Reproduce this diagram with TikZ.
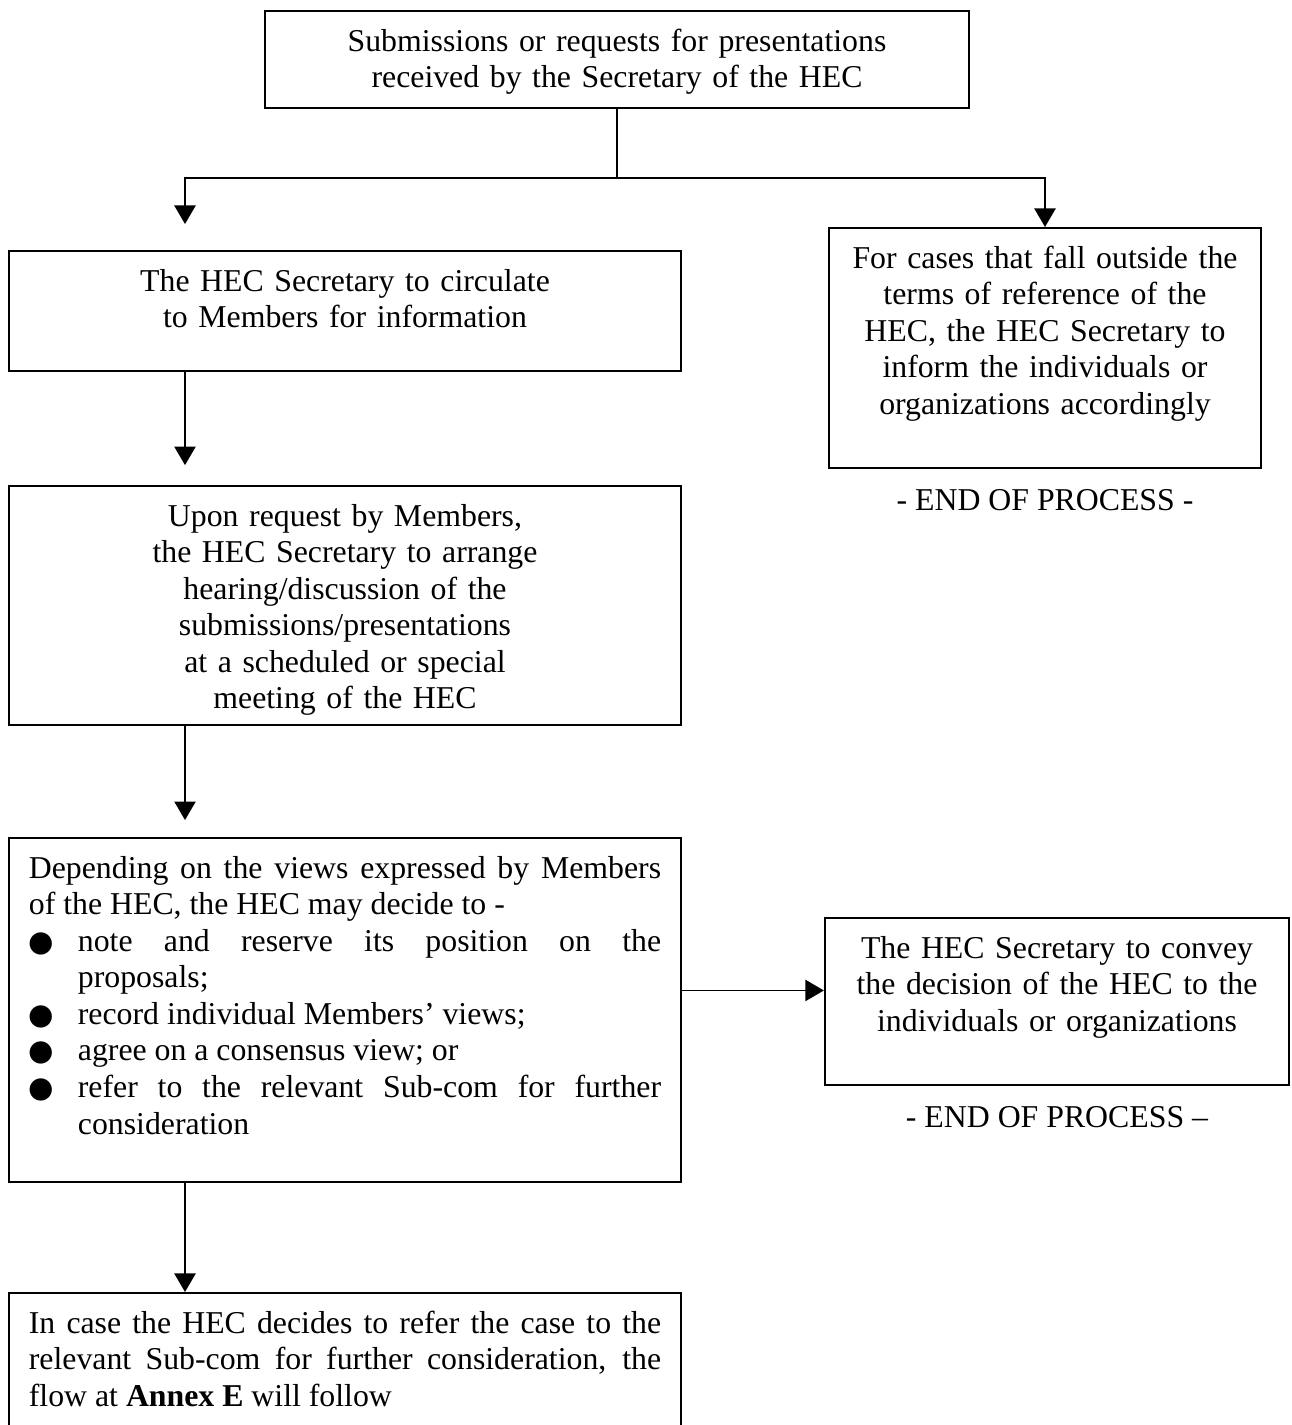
\documentclass[tikz,border=0pt]{standalone}
\usepackage{fontspec}
\setmainfont{Liberation Serif}
\newfontfamily\dotfont{DejaVu Sans}
\usepackage{tikz}
\usetikzlibrary{positioning, calc, arrows.meta}

% bullet item with hanging indent
\newcommand{\bul}[1]{\par\noindent\hangindent=18.5pt\hangafter=1\makebox[18.5pt][l]{\hspace{-0.2pt}{\dotfont\fontsize{11pt}{11pt}\selectfont ●}}#1\par}

\begin{document}
\begin{tikzpicture}[
    x=0.3774pt, y=-0.3774pt,
    font=\fontsize{12pt}{13.8pt}\selectfont,
    box/.style={rectangle, draw=black, line width=0.85pt, anchor=north, inner xsep=7.5pt, inner ysep=0pt, text height=15.1pt},
    ctr/.style={box, align=center},
    just/.style={box, align=justify},
    endnote/.style={inner sep=0pt},
    arrow/.style={-{Triangle[length=7pt,width=8pt]}, line width=0.65pt},
    link/.style={line width=0.65pt},
    node distance=7.4pt
]
\useasboundingbox (0,0) rectangle (1292,1425);
\clip (0,0) rectangle (1292,1425);

% Incoming submissions
\node[ctr, text width=250.7pt, text depth=21.5pt] (sub) at (617,10)
    {Submissions or requests for presentations\\received by the Secretary of the HEC};

% Left column
\node[ctr, text width=238.6pt, text depth=30.2pt] (circ) at (345,250)
    {The HEC Secretary to circulate\\to Members for information};
\node[ctr, text width=238.6pt, text depth=75.1pt] (upon) at (345,485)
    {Upon request by Members,\\the HEC Secretary to arrange\\hearing/discussion of the\\submissions/presentations\\at a scheduled or special\\meeting of the HEC};
\node[just, text width=238.6pt, text depth=114.7pt] (depend) at (345,837)
    {Depending on the views expressed by Members\linebreak of the HEC, the HEC may decide to -
     \bul{note and reserve its position on the\linebreak proposals;}
     \bul{record individual Members' views;}
     \bul{agree on a consensus view; or}
     \bul{refer to the relevant Sub-com for further\linebreak consideration}};
\node[just, text width=238.6pt, text depth=60.4pt] (annex) at (345,1292)
    {In case the HEC decides to refer the case to the\linebreak relevant Sub-com for further consideration, the\linebreak flow at \textbf{Annex E} will follow};

% Right column
\node[ctr, text width=148pt, text depth=75.5pt] (outside) at (1045,227)
    {For cases that fall outside the\\terms of reference of the\\HEC, the HEC Secretary to\\inform the individuals or\\organizations accordingly};
\node[ctr, text width=160.1pt, text depth=47.9pt] (convey) at (1057,917)
    {The HEC Secretary to convey\\the decision of the HEC to the\\individuals or organizations};

% End markers
\node[endnote, below=of outside] (end1) {- END OF PROCESS -};
\node[endnote, below=of convey] (end2) {- END OF PROCESS --};

% Connectors
\coordinate (split) at (617,178);
\coordinate (lane) at (185,178);
\draw[link] (sub.south) -- (split);
\draw[arrow, shorten >=9.8pt] (split) -| (lane |- circ.north);
\draw[arrow] (split) -| (outside.north);
\draw[arrow, shorten >=7.5pt] (lane |- circ.south) -- (lane |- upon.north);
\draw[arrow, shorten >=6.4pt] (lane |- upon.south) -- (lane |- depend.north);
\draw[arrow] (lane |- depend.south) -- (lane |- annex.north);
\coordinate (conv in) at ([yshift=4.2pt]convey.west);
\draw[arrow] (depend.east |- conv in) -- (conv in);

\end{tikzpicture}
\end{document}
